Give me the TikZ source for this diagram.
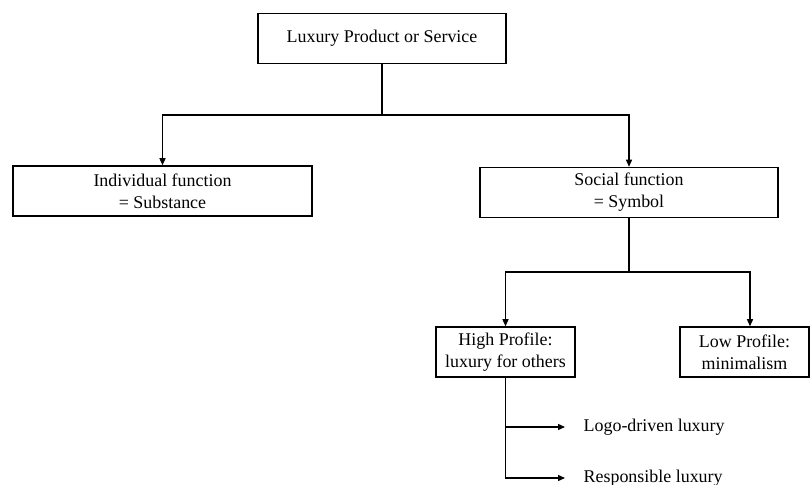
\documentclass[tikz,border=0pt]{standalone}
\usepackage{fontspec}
\setmainfont{Liberation Serif}
\usetikzlibrary{arrows.meta,positioning}

\begin{document}
\begin{tikzpicture}[
        x=1bp, y=-1bp,
        every node/.style={font=\fontsize{18}{22}\selectfont},
        box/.style={draw, line width=1.5bp, align=center, inner sep=0pt, minimum height=50bp},
        item/.style={anchor=west, inner sep=0pt},
        >={Triangle[length=7bp,width=6bp]}, line width=1.3bp
    ]
    \useasboundingbox (0,0) rectangle (810,485);

    % Nodes
    \node[box, minimum width=248bp] (root) at (382,38.5) {Luxury Product or Service};
    \node[box, minimum width=299bp] (indiv) at (162.5,191) {Individual function\\= Substance};
    \node[box, minimum width=298bp] (social) at (629,192.5) {Social function\\= Symbol};
    \node[box, minimum width=139bp] (high) at (505.5,352) {High Profile:\\luxury for others};
    \node[box, minimum width=129bp] (low) at (744.5,352) {Low Profile:\\minimalism};
    \node[item] (logo) at (583,427) {Logo-driven luxury};
    \node[item] (resp) at (583,478) {Responsible luxury};

    % Edges
    \coordinate (top split) at (root.south |- 0,115);
    \coordinate (soc split) at (social.south |- 0,272);
    \draw (root.south) -- (top split);
    \draw[->] (top split) -| (indiv.north);
    \draw[->] (top split) -| (social.north);
    \draw (social.south) -- (soc split);
    \draw[->] (soc split) -| (high.north);
    \draw[->] (soc split) -| ([xshift=5.5bp]low.north);
    \draw[->] (high.south) |- ([xshift=-18bp]resp.west);
    \draw[->] (high.south |- logo.west) -- ([xshift=-18bp]logo.west);

\end{tikzpicture}
\end{document}
